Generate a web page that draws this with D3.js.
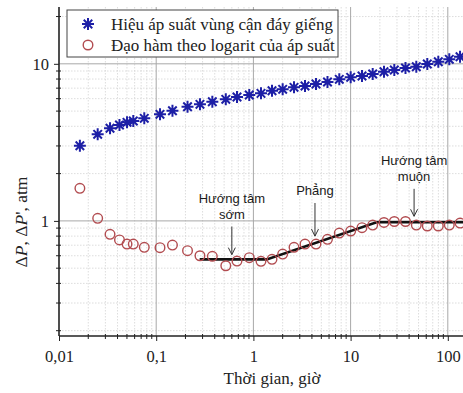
<!DOCTYPE html>
<html><head><meta charset="utf-8">
<script src="https://cdn.jsdelivr.net/npm/d3@7"></script>
<style>body{margin:0;background:#fff}svg{display:block}</style>
</head><body>
<svg id="c" width="463" height="393"></svg>
<script>
const times = [0.0164,0.025,0.0335,0.0419,0.0501,0.0581,0.0754,0.1094,0.147,0.21,0.282,0.378,0.52,0.678,0.907,1.197,1.554,2.0,2.617,3.396,4.406,5.785,7.651,10.02,13.1,16.88,22.06,28.16,36.71,47.42,61.53,79.87,103.6,133.6];
const deltaP = [3.01,3.557,3.885,4.077,4.241,4.323,4.497,4.769,5.027,5.331,5.522,5.736,5.941,6.144,6.328,6.487,6.739,6.879,7.084,7.22,7.435,7.656,7.965,8.202,8.36,8.609,8.905,9.13,9.4,9.58,9.97,10.31,10.68,11.09];
const derivP = [1.612,1.038,0.821,0.756,0.712,0.712,0.679,0.675,0.702,0.646,0.6,0.595,0.518,0.555,0.583,0.553,0.569,0.615,0.679,0.712,0.712,0.763,0.837,0.862,0.905,0.941,0.977,0.991,0.991,0.941,0.928,0.928,0.941,0.969];
const fitT = [0.28,1.37,18.5,200];
const fitV = [0.569,0.569,0.98,0.98];
const xTicks = [0.01,0.1,1,10,100];
const xTickLabels = ["0,01","0,1","1","10","100"];
const yTicks = [1,10];
const yTickLabels = ["1","10"];
const legendLabels = ["Hiệu áp suất vùng cận đáy giếng","Đạo hàm theo logarit của áp suất"];
const annotations = [
  {t:0.6, lines:["Hướng tâm","sớm"], from:0.92, to:0.61},
  {t:4.3, lines:["Phẳng"], from:1.3, to:0.8},
  {t:45, lines:["Hướng tâm","muộn"], from:1.6, to:1.07}
];

const svg = d3.select("#c");
const x = d3.scaleLog().domain([0.01,200]).range([59,59+97.2*Math.log10(20000)]);
const y = d3.scaleLog().domain([0.185,23]).range([336,7]);
const X0=59, X1=463, Y0=336, Y1=7;

svg.append("defs").append("clipPath").attr("id","clip")
  .append("rect").attr("x",X0).attr("y",Y1).attr("width",X1-X0).attr("height",Y0-Y1);

function minors(lo,hi){const a=[];for(let d=lo;d<hi;d*=10){for(let k=2;k<=9;k++){a.push(d*k);}}return a;}
const xMinor = minors(0.01,1000).filter(v=>x(v)<=X1);
const yMinor = minors(0.1,100).filter(v=>y(v)<=Y0 && y(v)>=Y1);

const grid = svg.append("g");
grid.selectAll(".xm").data(xMinor).join("line")
  .attr("x1",d=>x(d)).attr("x2",d=>x(d)).attr("y1",Y1).attr("y2",Y0)
  .attr("stroke","#d4d4d4").attr("stroke-width",0.8).attr("stroke-dasharray","1.5,1.5");
grid.selectAll(".ym").data(yMinor).join("line")
  .attr("y1",d=>y(d)).attr("y2",d=>y(d)).attr("x1",X0).attr("x2",X1)
  .attr("stroke","#d4d4d4").attr("stroke-width",0.8).attr("stroke-dasharray","1.5,1.5");
grid.selectAll(".xM").data(xTicks.slice(1)).join("line")
  .attr("x1",d=>x(d)).attr("x2",d=>x(d)).attr("y1",Y1).attr("y2",Y0)
  .attr("stroke","#a8a8a8").attr("stroke-width",1);
grid.selectAll(".yM").data(yTicks).join("line")
  .attr("y1",d=>y(d)).attr("y2",d=>y(d)).attr("x1",X0).attr("x2",X1)
  .attr("stroke","#a8a8a8").attr("stroke-width",1);

const serif = "'Liberation Serif','Times New Roman',serif";
const xAxis = d3.axisBottom(x).tickValues(xTicks).tickFormat((d,i)=>xTickLabels[i]).tickSize(5).tickPadding(9);
const gx = svg.append("g").attr("transform",`translate(0,${Y0})`).call(xAxis);
gx.select(".domain").remove();
gx.selectAll("text").attr("font-family",serif).attr("font-size",16.5).attr("fill","#222");
gx.selectAll("line").attr("stroke","#222");
svg.append("g").selectAll("line").data(xMinor).join("line")
  .attr("x1",d=>x(d)).attr("x2",d=>x(d)).attr("y1",Y0-2).attr("y2",Y0+3).attr("stroke","#222");

const yAxis = d3.axisLeft(y).tickValues(yTicks).tickFormat((d,i)=>yTickLabels[i]).tickSize(5).tickPadding(5);
const gy = svg.append("g").attr("transform",`translate(${X0},0)`).call(yAxis);
gy.select(".domain").remove();
gy.selectAll("text").attr("font-family",serif).attr("font-size",16.5).attr("fill","#222");
gy.selectAll("line").attr("stroke","#222");
svg.append("g").selectAll("line").data(yMinor).join("line")
  .attr("y1",d=>y(d)).attr("y2",d=>y(d)).attr("x1",X0-3).attr("x2",X0+2).attr("stroke","#222");

svg.append("line").attr("x1",X0).attr("x2",X1).attr("y1",Y0).attr("y2",Y0).attr("stroke","#222").attr("stroke-width",1.6);
svg.append("line").attr("x1",X0).attr("x2",X0).attr("y1",Y1).attr("y2",Y0).attr("stroke","#222").attr("stroke-width",1.6);

svg.append("text").attr("x",272).attr("y",384).attr("text-anchor","middle")
  .attr("font-family",serif).attr("font-size",17).attr("fill","#222").text("Thời gian, giờ");
const yt = svg.append("text").attr("transform","translate(27,222) rotate(-90)").attr("text-anchor","middle")
  .attr("font-family",serif).attr("font-size",17.5).attr("fill","#222");
yt.append("tspan").text("Δ");
yt.append("tspan").attr("font-style","italic").text("P");
yt.append("tspan").text(", Δ");
yt.append("tspan").attr("font-style","italic").text("P");
yt.append("tspan").text("', atm");

const plot = svg.append("g").attr("clip-path","url(#clip)");

plot.append("path").datum(fitT.map((t,i)=>[t,fitV[i]]))
  .attr("d",d3.line().x(d=>x(d[0])).y(d=>y(d[1])))
  .attr("fill","none").attr("stroke","#111").attr("stroke-width",2.6);

plot.selectAll(".ci").data(times).join("circle")
  .attr("cx",d=>x(d)).attr("cy",(d,i)=>y(derivP[i])).attr("r",4.8)
  .attr("fill","none").attr("stroke","#b24c50").attr("stroke-width",1.4);

const starPath = (r)=>{let s="";for(let k=0;k<4;k++){const a=k*Math.PI/4;const dx=r*Math.cos(a),dy=r*Math.sin(a);s+=`M${-dx},${-dy}L${dx},${dy}`;}return s;};
plot.selectAll(".st").data(times).join("path")
  .attr("transform",(d,i)=>`translate(${x(d)},${y(deltaP[i])})`)
  .attr("d",starPath(6)).attr("stroke","#1d1fa6").attr("stroke-width",2).attr("fill","none");

const sans = "'Liberation Sans',Arial,sans-serif";
annotations.forEach(a=>{
  const cx = x(a.t);
  const topY = y(a.from);
  const n = a.lines.length;
  a.lines.forEach((l,j)=>{
    svg.append("text").attr("x",cx).attr("y",topY-8-(n-1-j)*16).attr("text-anchor","middle")
      .attr("font-family",sans).attr("font-size",13).attr("fill","#1a1a1a").text(l);
  });
  const y2 = y(a.to);
  svg.append("line").attr("x1",cx).attr("x2",cx).attr("y1",topY).attr("y2",y2).attr("stroke","#333").attr("stroke-width",1);
  svg.append("path").attr("d",`M${cx-3.5},${y2-7}L${cx},${y2}L${cx+3.5},${y2-7}`).attr("fill","none").attr("stroke","#333").attr("stroke-width",1);
});

const lg = svg.append("g");
lg.append("rect").attr("x",67).attr("y",10).attr("width",271).attr("height",47)
  .attr("fill","#fff").attr("stroke","#444").attr("stroke-width",1);
lg.append("path").attr("transform","translate(88,24)").attr("d",starPath(6)).attr("stroke","#1d1fa6").attr("stroke-width",2);
lg.append("circle").attr("cx",88).attr("cy",45).attr("r",4.8).attr("fill","none").attr("stroke","#b24c50").attr("stroke-width",1.4);
legendLabels.forEach((l,i)=>{
  lg.append("text").attr("x",111).attr("y",30+i*21).attr("font-family",serif).attr("font-size",17).attr("fill","#222").text(l);
});
</script>
</body></html>
